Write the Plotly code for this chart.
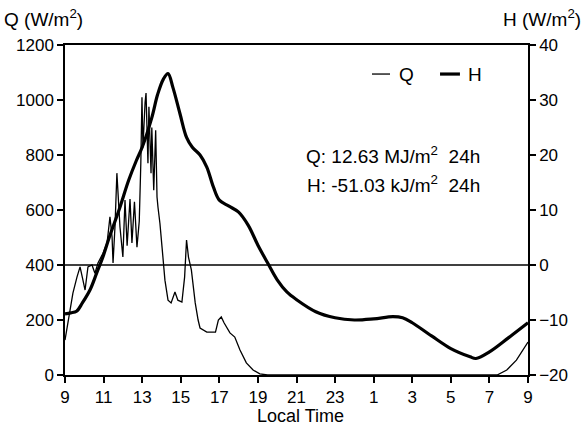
import plotly.graph_objects as go

# ---- data (hours since 9:00 of day 1, continuous) ----
time_q = [9.0, 9.1, 9.26, 9.41, 9.62, 9.78, 9.93, 10.04, 10.19, 10.4, 10.55, 10.71, 10.97, 11.18,
          11.33, 11.44, 11.49, 11.59, 11.69, 11.85, 12.0, 12.11, 12.22, 12.37, 12.47, 12.6, 12.73,
          12.85, 12.93, 12.99, 13.04, 13.1, 13.15, 13.2, 13.3, 13.35, 13.46, 13.5, 13.6, 13.7,
          13.77, 13.82, 13.92, 14.03, 14.18, 14.34, 14.5, 14.7, 14.85, 15.06, 15.2, 15.3, 15.4,
          15.55, 15.75, 15.9, 16.0, 16.35, 16.8, 16.95, 17.1, 17.25, 17.55, 17.8, 18.07, 18.4,
          18.75, 19.1, 19.5, 31.4, 31.9, 32.4, 33.0]
q_vals = [127, 170, 230, 298, 356, 393, 345, 309, 393, 400, 370, 407, 443, 480,
          575, 502, 407, 538, 734, 538, 429, 636, 470, 640, 480, 630, 465,
          560, 770, 1010, 827, 960, 990, 1025, 770, 975, 734, 900, 672, 890,
          647, 610, 552, 465, 345, 272, 262, 302, 272, 265, 356, 491, 429,
          382, 262, 200, 171, 156, 156, 200, 211, 189, 153, 138, 91, 44,
          18, 4, 0, 0, 18, 54, 120]

time_h = [9.0, 9.3, 9.6, 9.9, 10.3, 10.65, 10.97, 11.3, 11.8, 12.3, 12.7, 13.0, 13.5, 13.8,
          14.1, 14.34, 14.6, 14.96, 15.3, 15.6, 16.0, 16.35, 16.7, 17.0, 17.5, 18.0, 18.5,
          19.0, 19.5, 20.0, 20.5, 21.0, 22.0, 23.0, 24.0, 25.0, 26.0, 26.5, 27.0, 28.0,
          29.0, 30.0, 30.3, 31.0, 32.0, 33.0]
h_vals = [-8.9, -8.7, -8.4, -6.9, -4.5, -1.4, 1.5, 5.1, 10.0, 15.4, 19.0, 21.4, 26.8, 31.0,
          33.8, 34.8, 32.2, 27.5, 23.2, 21.4, 20.0, 17.8, 14.1, 11.8, 10.7, 9.6, 7.2,
          3.6, 0.4, -2.7, -4.9, -6.3, -8.5, -9.6, -10.0, -9.8, -9.4, -9.6, -10.5, -12.9,
          -15.2, -16.7, -17.0, -15.8, -13.2, -10.5]

x_tickvals = [9, 11, 13, 15, 17, 19, 21, 23, 25, 27, 29, 31, 33]
x_ticktext = ["9", "11", "13", "15", "17", "19", "21", "23", "1", "3", "5", "7", "9"]
q_ticks = [0, 200, 400, 600, 800, 1000, 1200]
h_ticks = [-20, -10, 0, 10, 20, 30, 40]

FONT = "Liberation Sans, Arial, sans-serif"
TICK_SIZE = 17
TEXT_SIZE = 19

fig = go.Figure()
fig.add_trace(go.Scatter(x=time_q, y=q_vals, mode="lines", name="Q",
                         line=dict(color="black", width=1.3), yaxis="y"))
fig.add_trace(go.Scatter(x=time_h, y=h_vals, mode="lines", name="H",
                         line=dict(color="black", width=3.2, shape="spline", smoothing=1),
                         yaxis="y2"))

axis_common = dict(showgrid=False, zeroline=False, showline=True, linecolor="black",
                   linewidth=1.5, ticks="outside", ticklen=6, tickwidth=1.5,
                   tickcolor="black", tickfont=dict(family=FONT, size=TICK_SIZE, color="black"))

fig.update_layout(
    width=586, height=427,
    margin=dict(l=65, r=58, t=45, b=52),
    paper_bgcolor="white", plot_bgcolor="white",
    showlegend=False,
    font=dict(family=FONT, size=TICK_SIZE, color="black"),
    xaxis=dict(range=[9, 33], tickvals=x_tickvals, ticktext=x_ticktext, mirror=True,
               ticklabelstandoff=0, **axis_common),
    yaxis=dict(range=[0, 1200], tickvals=q_ticks, **axis_common),
    yaxis2=dict(range=[-20, 40], tickvals=h_ticks, overlaying="y", side="right",
                **axis_common),
)

# horizontal zero line of H
fig.add_shape(type="line", xref="paper", x0=0, x1=1, yref="y2", y0=0, y1=0,
              line=dict(color="black", width=1.3))

# legend drawn manually
fig.add_shape(type="line", xref="paper", yref="paper", x0=0.663, x1=0.702, y0=0.912, y1=0.912,
              line=dict(color="black", width=1.3))
fig.add_shape(type="line", xref="paper", yref="paper", x0=0.81, x1=0.853, y0=0.912, y1=0.912,
              line=dict(color="black", width=3.2))

ann = [
    dict(text="Q", x=0.717, y=0.912, xanchor="left", yanchor="middle", size=TEXT_SIZE),
    dict(text="H", x=0.866, y=0.912, xanchor="left", yanchor="middle", size=TEXT_SIZE),
    dict(text="Q: 12.63 MJ/m<sup>2</sup>\u00a0\u00a024h", x=0.9, y=0.667,
         xanchor="right", yanchor="middle", size=TEXT_SIZE),
    dict(text="H: -51.03 kJ/m<sup>2</sup>\u00a0\u00a024h", x=0.9, y=0.579,
         xanchor="right", yanchor="middle", size=TEXT_SIZE),
    dict(text="Q (W/m<sup>2</sup>)", x=-0.136, y=1.082, xanchor="left", yanchor="middle",
         size=TEXT_SIZE),
    dict(text="H (W/m<sup>2</sup>)", x=1.119, y=1.082, xanchor="right", yanchor="middle",
         size=TEXT_SIZE),
    dict(text="Local Time", x=0.508, y=-0.124, xanchor="center", yanchor="middle", size=18),
]
for a in ann:
    s = a.pop("size")
    fig.add_annotation(xref="paper", yref="paper", showarrow=False,
                       font=dict(family=FONT, size=s, color="black"), **a)

fig.write_html("out.html", config={"displayModeBar": False},
               post_script="document.body.style.margin='0px';")
